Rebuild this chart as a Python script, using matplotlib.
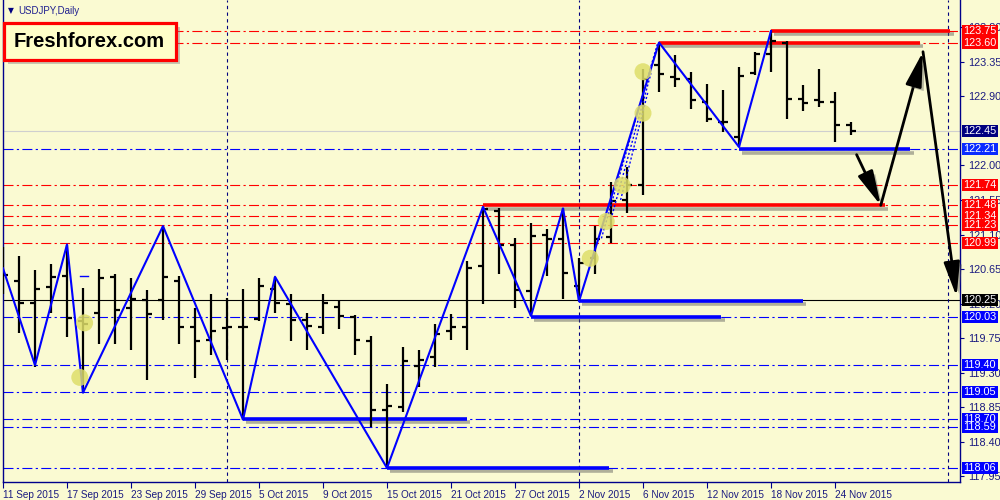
import numpy as np
import matplotlib
matplotlib.use('Agg')
from matplotlib import pyplot as plt
from matplotlib import patheffects as pe
from matplotlib.patches import Rectangle
from matplotlib.transforms import blended_transform_factory

plt.rcParams['font.family'] = ['Liberation Sans', 'DejaVu Sans']

# ---------------------------------------------------------------------------
# dados (USDJPY diario, 11 Set - 25 Nov 2015)
# ---------------------------------------------------------------------------
o = [120.57, 120.50, 120.21, 120.42, 120.56, 119.98, 120.08, 120.55, 120.14, 120.25,
     120.25, 120.49, 119.90, 119.73, 119.88, 119.90, 120.00, 120.39, 120.20, 119.99,
     119.90, 120.16, 120.03, 119.72, 118.81, 118.86, 119.39, 119.50, 119.85, 119.90,
     120.69, 121.40, 120.97, 120.36, 121.09, 121.04, 120.43, 120.79, 121.07, 121.55,
     121.74, 123.31, 123.15, 123.13, 122.83, 122.57, 122.37, 123.20, 123.45, 123.60,
     122.86, 122.85, 122.83, 122.52]
h = [120.94, 120.82, 120.64, 120.71, 120.97, 120.40, 120.65, 120.59, 120.53, 120.38,
     121.21, 120.56, 120.14, 120.33, 120.27, 120.39, 120.53, 120.55, 120.33, 120.08,
     120.33, 120.25, 120.05, 119.78, 119.15, 119.63, 119.59, 119.94, 120.07, 120.75,
     121.46, 121.44, 121.06, 121.25, 121.17, 121.44, 120.79, 121.21, 121.78, 121.98,
     123.26, 123.60, 123.44, 123.22, 123.06, 122.98, 123.28, 123.48, 123.75, 123.62,
     123.05, 123.25, 122.96, 122.56]
l = [120.33, 119.82, 119.38, 120.08, 119.77, 119.04, 119.67, 119.68, 119.60, 119.21,
     119.99, 119.68, 119.23, 119.53, 119.46, 118.69, 119.98, 120.08, 119.72, 119.60,
     119.81, 119.87, 119.53, 118.60, 118.06, 118.79, 119.11, 119.38, 119.73, 119.59,
     120.20, 120.59, 120.14, 120.04, 120.56, 120.26, 120.23, 120.58, 120.99, 121.38,
     121.61, 122.96, 123.02, 122.73, 122.56, 122.43, 122.24, 123.18, 123.21, 122.61,
     122.71, 122.76, 122.30, 122.40]
c = [120.57, 120.21, 120.39, 120.55, 120.01, 119.93, 120.54, 120.12, 120.26, 120.07,
     120.55, 119.90, 119.72, 119.85, 119.90, 119.90, 120.43, 120.21, 119.99, 119.91,
     120.21, 120.04, 119.73, 118.81, 118.87, 119.45, 119.47, 119.80, 119.90, 120.67,
     121.43, 120.97, 120.38, 121.08, 121.04, 120.60, 120.73, 121.04, 121.53, 121.74,
     123.13, 123.19, 123.13, 122.85, 122.60, 122.57, 123.16, 123.45, 123.62, 122.86,
     122.81, 122.83, 122.53, 122.45]

datas = ['11 Sep 2015', '17 Sep 2015', '23 Sep 2015', '29 Sep 2015', '5 Oct 2015',
         '9 Oct 2015', '15 Oct 2015', '21 Oct 2015', '27 Oct 2015', '2 Nov 2015',
         '6 Nov 2015', '12 Nov 2015', '18 Nov 2015', '24 Nov 2015']
precos_eixo = [117.95, 118.40, 118.85, 119.30, 119.75, 120.20, 120.65, 121.10,
               121.55, 122.00, 122.90, 123.35, 123.80]

# zigzag (barra, preco)
zz_x = [0, 2, 4, 5, 10, 15, 17, 24, 30, 33, 35, 36, 41, 46, 48]
zz_y = [120.66, 119.40, 120.97, 119.04, 121.21, 118.69, 120.55, 118.06,
        121.46, 120.04, 121.44, 120.23, 123.60, 122.24, 123.75]

niveis_verm = [123.75, 123.60, 121.74, 121.48, 121.34, 121.23, 120.99]
niveis_azul = [122.21, 120.03, 119.40, 119.05, 118.70, 118.59, 118.06]

# segmentos grossos: barra inicial, barra final, preco
seg_verm = [(48, 59.2, 123.75), (41, 57.3, 123.60), (30, 55.1, 121.48)]
seg_azul = [(46, 56.7, 122.21), (36, 50.0, 120.24), (33, 44.9, 120.03),
            (15, 29.0, 118.70), (24, 37.9, 118.06)]

# setas de previsao
setas = [(53.35, 122.14, 54.86, 121.48), (54.86, 121.48, 57.5, 123.48),
         (57.5, 123.48, 59.6, 120.29)]

circ_x = [5.1, 4.8, 36.7, 37.7, 38.7, 40.0, 40.0]
circ_y = [119.95, 119.24, 120.79, 121.27, 121.74, 122.68, 123.22]

pontilh = [(37.4, 121.05, 40.9, 123.58), (38.0, 121.30, 40.5, 123.20),
           (38.6, 121.55, 40.3, 122.95)]

# rotulos coloridos do eixo de precos (ordem de desenho)
rot_precos = [(123.75, '#ff0000'), (123.60, '#ff0000'), (122.45, '#000080'),
              (122.21, '#0a2cff'), (121.74, '#ff0000'), (121.48, '#ff0000'),
              (121.23, '#ff0000'), (121.34, '#ff0000'), (120.99, '#ff0000'),
              (120.25, '#000000'), (120.03, '#0000ff'), (119.40, '#0000ff'),
              (119.05, '#0000ff'), (118.70, '#0000ff'), (118.59, '#0000ff'),
              (118.06, '#0000ff')]

fundo = '#fafad2'
azul = '#0000ff'
marinho = '#000080'

fig = plt.figure(figsize=(10, 5), dpi=100, facecolor=fundo)
ax = fig.add_axes([0.0025, 1 - 482/500, (960 - 2.5)/1000, 482/500])
ax.set_facecolor(fundo)
ax.set_xlim(-0.03125, 59.8125)
ax.set_ylim(123.75 - 451/76.8, 123.75 + 31/76.8)

sombra = [pe.SimpleLineShadow(offset=(2.5, -2.5), shadow_color='#555555', alpha=0.45),
          pe.Normal()]

# linhas horizontais de nivel
for p in niveis_verm:
    ax.axhline(p, color='#ff0000', lw=0.8, ls=(0, (9, 3, 2, 3)), zorder=1)
for p in niveis_azul:
    ax.axhline(p, color=azul, lw=0.8, ls=(0, (9, 3, 2, 3)), zorder=1)
ax.axhline(122.45, color='#cfcfcf', lw=0.8, zorder=1)
ax.axhline(120.25, color='black', lw=0.8, zorder=1)

# separadores de periodo
for xv in [14, 36, 59.06]:
    ax.axvline(xv, color=marinho, lw=0.8, ls=(0, (3, 3)), zorder=1)

# segmentos grossos
for x0, x1, p in seg_verm:
    ax.plot([x0, x1], [p, p], color='#ff0000', lw=2.6, solid_capstyle='butt',
            path_effects=sombra, zorder=3)
for x0, x1, p in seg_azul:
    ax.plot([x0, x1], [p, p], color=azul, lw=2.6, solid_capstyle='butt',
            path_effects=sombra, zorder=3)

# barras OHLC
idx = np.arange(len(o))
ax.vlines(idx, l, h, color='black', lw=1.6, zorder=4)
ax.hlines(o, idx - 0.33, idx, color='black', lw=1.6, zorder=4)
ax.hlines(c, idx, idx + 0.33, color='black', lw=1.6, zorder=4)

# zigzag
ax.plot(zz_x, zz_y, color=azul, lw=1.5, zorder=5)
for x0, y0, x1, y1 in pontilh:
    ax.plot([x0, x1], [y0, y1], color=azul, lw=1.0, ls=(0, (1.5, 1.5)), zorder=5)
ax.plot([4.8, 5.3], [120.56, 120.56], color=azul, lw=1.0, zorder=5)

# marcadores amarelos
ax.scatter(circ_x, circ_y, s=150, color='#dede6a', alpha=0.85, edgecolors='none', zorder=6)

# setas
for x0, y0, x1, y1 in setas:
    an = ax.annotate('', xy=(x1, y1), xytext=(x0, y0),
                     arrowprops=dict(arrowstyle='-|>,head_length=1.5,head_width=0.35',
                                     color='black', lw=2.0, mutation_scale=14,
                                     shrinkA=0, shrinkB=0), zorder=7)
    an.arrow_patch.set_path_effects([pe.SimplePatchShadow(offset=(2.5, -2.5),
                                     shadow_rgbFace='#555555', alpha=0.4), pe.Normal()])

# eixos
for s in ['left', 'bottom', 'right']:
    ax.spines[s].set_color('#00008b')
    ax.spines[s].set_linewidth(1.0)
ax.spines['top'].set_visible(False)

ax.set_xticks(np.arange(0, len(o), 4))
ax.set_xticklabels(datas)
for t in ax.get_xticklabels():
    t.set_ha('left')
ax.tick_params(axis='x', length=4, color='#00008b', labelcolor='#1a1a80',
               labelsize=7.2, pad=1.5)

ax.yaxis.tick_right()
ax.set_yticks(precos_eixo)
ax.set_yticklabels(['%.2f' % p for p in precos_eixo])
ax.tick_params(axis='y', length=3, color='#00008b', labelcolor='#1a1a80',
               labelsize=7.8, pad=3)

# caixas de preco com largura fixa (961 a 998 px)
trans = blended_transform_factory(fig.transFigure, ax.transData)
alt = 12 / 76.8
for p, cor in rot_precos:
    ax.add_patch(Rectangle((0.9615, p - alt/2), 0.0365, alt, transform=trans,
                           fc=cor, ec='none', clip_on=False, zorder=9))
    ax.text(0.9795, p, '%.2f' % p, transform=trans, ha='center', va='center',
            fontsize=7.8, color='white', clip_on=False, zorder=10)

# titulo e logotipo
fig.text(0.0075, 0.979, '\u25bc', fontsize=5.5, color=marinho, va='center',
         family='DejaVu Sans')
fig.text(0.018, 0.979, 'USDJPY,Daily', fontsize=7, color='#202090', va='center')

fig.patches.append(Rectangle((0.0075, 1 - 64/500), 0.172, 37/500, transform=fig.transFigure,
                             fc='#888888', ec='none', alpha=0.45, zorder=8))
fig.patches.append(Rectangle((0.0035, 1 - 60/500), 0.172, 37/500, transform=fig.transFigure,
                             fc='#ffffc8', ec='#ff0000', lw=2.3, zorder=9))
fig.text(0.0895, 1 - 41.5/500, 'Freshforex.com', fontsize=14.5, fontweight='bold',
         color='black', ha='center', va='center', zorder=10)

fig.savefig('out.png', dpi=100, facecolor=fundo)
